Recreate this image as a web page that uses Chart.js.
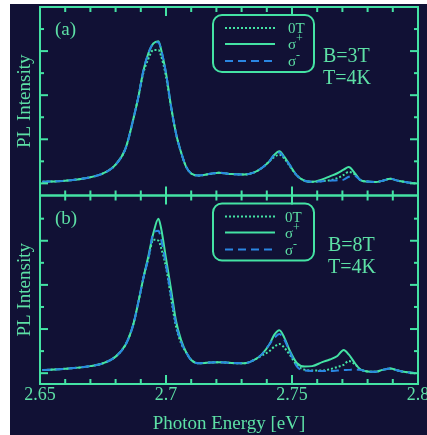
<!DOCTYPE html>
<html>
<head>
<meta charset="utf-8">
<script src="https://cdn.jsdelivr.net/npm/chart.js@4.4.0/dist/chart.umd.min.js"></script>
<style>
  html, body { margin: 0; padding: 0; background: #fff; }
  #wrap { position: absolute; left: 10px; top: 4px; width: 417px; height: 431px; background: #111135; }
</style>
</head>
<body>
<div id="wrap"><canvas id="pl" width="417" height="431"></canvas></div>
<script>
// photon energy (eV), shared by all curves
const energy = [2.651, 2.66, 2.67, 2.675, 2.68, 2.684, 2.687, 2.689, 2.691, 2.693, 2.695, 2.697,
  2.698, 2.700, 2.702, 2.704, 2.706, 2.708, 2.710, 2.713, 2.717, 2.721, 2.726, 2.731,
  2.735, 2.738, 2.741, 2.743, 2.745, 2.747, 2.749, 2.752, 2.755, 2.758, 2.762, 2.765,
  2.768, 2.7705, 2.7725, 2.775, 2.777, 2.780, 2.783, 2.786, 2.789, 2.792, 2.795, 2.799];

// panel (a), B=3T
const aZero = [0.07, 0.12, 0.28, 0.45, 0.85, 1.6, 2.9, 3.9, 5.0, 5.65, 6.05, 6.05,
  5.8, 4.85, 3.45, 2.25, 1.4, 0.75, 0.45, 0.36, 0.42, 0.48, 0.42, 0.4,
  0.5, 0.7, 1.0, 1.2, 1.3, 1.12, 0.8, 0.35, 0.12, 0.07, 0.1, 0.14,
  0.24, 0.38, 0.52, 0.4, 0.16, 0.08, 0.06, 0.12, 0.21, 0.12, 0.06, 0.0];
const aPlus = [0.07, 0.12, 0.28, 0.45, 0.85, 1.6, 2.9, 3.9, 5.1, 5.9, 6.35, 6.45,
  6.1, 5.0, 3.5, 2.25, 1.4, 0.75, 0.45, 0.36, 0.42, 0.48, 0.42, 0.4,
  0.5, 0.7, 1.0, 1.3, 1.46, 1.2, 0.85, 0.35, 0.12, 0.07, 0.18, 0.32,
  0.46, 0.62, 0.74, 0.45, 0.16, 0.08, 0.06, 0.12, 0.21, 0.12, 0.06, 0.0];
const aMinus = [0.07, 0.12, 0.28, 0.45, 0.85, 1.6, 2.9, 3.9, 5.1, 5.9, 6.35, 6.4,
  6.1, 5.0, 3.5, 2.25, 1.4, 0.75, 0.45, 0.36, 0.42, 0.48, 0.42, 0.4,
  0.5, 0.7, 1.0, 1.3, 1.4, 1.15, 0.85, 0.35, 0.12, 0.07, 0.1, 0.12,
  0.14, 0.17, 0.3, 0.34, 0.16, 0.08, 0.06, 0.12, 0.21, 0.12, 0.06, 0.0];

// panel (b), B=8T
const bZero = [0.14, 0.2, 0.32, 0.45, 0.75, 1.3, 2.2, 3.2, 4.3, 5.2, 6.05, 6.0,
  5.7, 4.8, 3.4, 2.1, 1.35, 0.95, 0.6, 0.45, 0.48, 0.5, 0.46, 0.45,
  0.6, 0.8, 1.0, 1.2, 1.32, 1.15, 0.85, 0.35, 0.16, 0.12, 0.12, 0.18,
  0.28, 0.38, 0.55, 0.4, 0.18, 0.08, 0.06, 0.15, 0.21, 0.12, 0.05, 0.0];
const bPlus = [0.14, 0.2, 0.32, 0.45, 0.75, 1.3, 2.2, 3.2, 4.3, 5.3, 6.35, 7.0,
  6.6, 5.2, 3.8, 2.35, 1.5, 0.95, 0.6, 0.45, 0.48, 0.5, 0.46, 0.45,
  0.6, 0.85, 1.3, 1.75, 1.95, 1.6, 1.05, 0.45, 0.3, 0.32, 0.5, 0.62,
  0.78, 1.05, 0.85, 0.45, 0.18, 0.08, 0.06, 0.15, 0.21, 0.12, 0.05, 0.0];
const bMinus = [0.14, 0.2, 0.32, 0.45, 0.75, 1.3, 2.2, 3.2, 4.3, 5.2, 6.35, 6.45,
  6.1, 4.9, 3.5, 2.2, 1.4, 0.95, 0.6, 0.45, 0.48, 0.5, 0.46, 0.45,
  0.6, 0.85, 1.3, 1.6, 1.77, 1.5, 1.0, 0.3, 0.12, 0.1, 0.1, 0.1,
  0.12, 0.14, 0.15, 0.17, 0.15, 0.08, 0.06, 0.15, 0.21, 0.12, 0.05, 0.0];

const xTickLabels = ['2.65', '2.7', '2.75', '2.8'];
const seriesNames = ['0T', 'σ+', 'σ-'];
const panelTags = ['(a)', '(b)'];
const fieldText = ['B=3T', 'B=8T'];
const tempText = 'T=4K';

const GREEN = '#44e3a4';
const TEXT = '#5de0a6';
const BLUE = '#2a86e2';
const SERIF = '"Liberation Serif", "Times New Roman", serif';

function pts(ys) {
  return energy.map((e, i) => ({ x: e, y: ys[i] }));
}

function series(ys, axis, kind) {
  const ds = { data: pts(ys), yAxisID: axis, borderWidth: 2, pointRadius: 0, fill: false };
  if (kind === 0) Object.assign(ds, { borderColor: GREEN, borderDash: [2, 2], order: 2 });
  if (kind === 1) Object.assign(ds, { borderColor: GREEN, order: 1 });
  if (kind === 2) Object.assign(ds, { borderColor: BLUE, borderDash: [8, 5], order: 0 });
  return ds;
}

function yScale(min, max) {
  return {
    type: 'linear', position: 'left', stack: 'panels', stackWeight: 1,
    min: min, max: max,
    grid: { display: false, drawTicks: false }, border: { display: false },
    ticks: { display: false },
    title: { display: true, text: 'PL Intensity', color: TEXT, font: { family: SERIF, size: 19 }, padding: { top: 4, bottom: 0 } },
    afterFit: s => { s.width = 30; }
  };
}

const framePlugin = {
  id: 'frame',
  afterDatasetsDraw(chart) {
    const { ctx, chartArea, scales } = chart;
    const xs = scales.x;
    const l = chartArea.left, r = chartArea.right;
    ctx.save();
    const seg = (x1, y1, x2, y2) => { ctx.beginPath(); ctx.moveTo(x1, y1); ctx.lineTo(x2, y2); ctx.stroke(); };

    ['ya', 'yb'].forEach((id, p) => {
      const ys = scales[id];
      const t = ys.top, b = ys.bottom;
      ctx.strokeStyle = GREEN;
      ctx.lineWidth = 2;
      ctx.setLineDash([]);
      ctx.strokeRect(l, t, r - l, b - t);

      for (let k = 1; k < 15; k++) {
        const px = xs.getPixelForValue(2.65 + k * 0.01);
        const len = k % 5 === 0 ? 9 : 5;
        seg(px, b, px, b - len);
        seg(px, t, px, t + len);
      }
      for (let v = 0; v <= 7; v++) {
        const py = ys.getPixelForValue(v);
        const len = v % 2 === 0 ? 8 : 4;
        seg(l, py, l + len, py);
        seg(r, py, r - len, py);
      }

      // legend box
      const bx = l + 173, by = t + 8, bw = 101, bh = 57;
      ctx.beginPath();
      ctx.roundRect(bx, by, bw, bh, 9);
      ctx.stroke();
      const rows = [13, 29, 46];
      const styles = [[GREEN, [2, 2]], [GREEN, []], [BLUE, [8, 5]]];
      rows.forEach((dy, i) => {
        ctx.strokeStyle = styles[i][0];
        ctx.setLineDash(styles[i][1]);
        seg(bx + 12, by + dy, bx + 62, by + dy);
      });
      ctx.setLineDash([]);
      ctx.fillStyle = TEXT;
      ctx.textBaseline = 'alphabetic';
      ctx.textAlign = 'left';
      rows.forEach((dy, i) => {
        const name = seriesNames[i];
        const lx = bx + 75 - (p === 1 ? 3 : 0);
        ctx.font = '15px ' + SERIF;
        if (name === '0T') {
          ctx.fillText(name, lx, by + dy + 5);
        } else {
          ctx.fillText(name[0], lx, by + dy + 5);
          const w = ctx.measureText(name[0]).width;
          ctx.font = '12px ' + SERIF;
          ctx.fillText(name[1], lx + w, by + dy - 2);
        }
      });

      ctx.font = '19px ' + SERIF;
      ctx.fillText(panelTags[p], l + 15, t + 28);
      ctx.font = '20px ' + SERIF;
      const tx = l + (p === 0 ? 283 : 288);
      ctx.fillText(fieldText[p], tx, t + 55);
      ctx.fillText(tempText, tx, t + 77);
    });
    ctx.restore();
  }
};

new Chart(document.getElementById('pl'), {
  type: 'line',
  data: {
    datasets: [
      series(aZero, 'ya', 0), series(aPlus, 'ya', 1), series(aMinus, 'ya', 2),
      series(bZero, 'yb', 0), series(bPlus, 'yb', 1), series(bMinus, 'yb', 2)
    ]
  },
  options: {
    responsive: false,
    animation: false,
    devicePixelRatio: 1,
    layout: { padding: { top: 3, right: 9, left: 0, bottom: 0 } },
    elements: { line: { cubicInterpolationMode: 'monotone' } },
    plugins: { legend: { display: false }, tooltip: { enabled: false } },
    scales: {
      x: {
        type: 'linear', min: 2.65, max: 2.8,
        grid: { display: false, drawTicks: false }, border: { display: false },
        ticks: {
          stepSize: 0.05, color: TEXT, padding: 0, maxRotation: 0,
          font: { family: SERIF, size: 18 },
          callback: v => xTickLabels.find(s => Math.abs(Number(s) - v) < 1e-6) || ''
        },
        title: { display: true, text: 'Photon Energy [eV]', color: TEXT, font: { family: SERIF, size: 19 }, padding: { top: 2, bottom: 0 } },
        afterFit: s => { s.height = 51; s.paddingLeft = 0; s.paddingRight = 0; }
      },
      yb: yScale(-0.49, 8.05),
      ya: yScale(-0.55, 8)
    }
  },
  plugins: [framePlugin]
});
</script>
</body>
</html>
